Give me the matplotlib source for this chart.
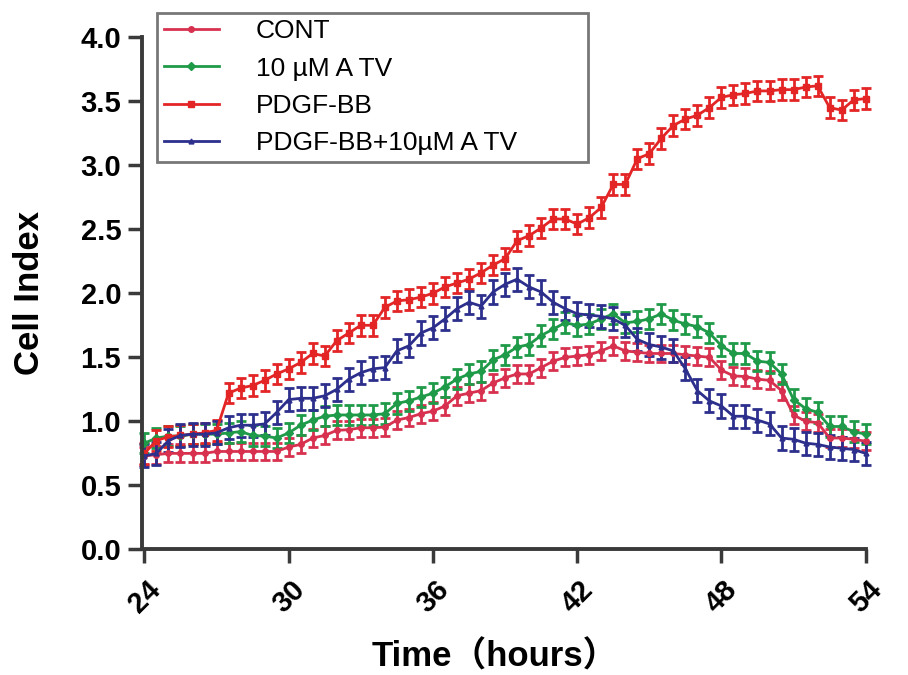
import numpy as np
import matplotlib
matplotlib.use("Agg")
import matplotlib.pyplot as plt
from matplotlib.lines import Line2D

# sampling every half hour from 24 h to 54 h
hours = np.arange(24, 54.5, 0.5)

cont = [0.73, 0.74, 0.75, 0.75, 0.75, 0.75, 0.765, 0.765, 0.765, 0.765,
        0.765, 0.765, 0.80, 0.82, 0.87, 0.89, 0.93, 0.935, 0.95, 0.95,
        0.955, 1.01, 1.03, 1.06, 1.08, 1.12, 1.20, 1.22, 1.24, 1.30,
        1.34, 1.37, 1.37, 1.42, 1.47, 1.50, 1.51, 1.52, 1.55, 1.59,
        1.55, 1.54, 1.53, 1.53, 1.53, 1.52, 1.51, 1.50, 1.40, 1.355,
        1.35, 1.33, 1.32, 1.24, 1.05, 1.00, 0.99, 0.87, 0.87, 0.86,
        0.845]

atv = [0.83, 0.87, 0.885, 0.885, 0.90, 0.90, 0.90, 0.91, 0.92, 0.89,
       0.885, 0.87, 0.91, 0.97, 1.01, 1.04, 1.05, 1.05, 1.05, 1.05,
       1.06, 1.14, 1.16, 1.19, 1.22, 1.27, 1.33, 1.37, 1.39, 1.48,
       1.52, 1.58, 1.60, 1.67, 1.72, 1.77, 1.75, 1.76, 1.80, 1.84,
       1.77, 1.78, 1.80, 1.84, 1.79, 1.76, 1.74, 1.69, 1.59, 1.53,
       1.53, 1.47, 1.46, 1.37, 1.17, 1.10, 1.07, 0.96, 0.96, 0.92,
       0.90]

pdgf = [0.75, 0.85, 0.88, 0.89, 0.90, 0.91, 0.93, 1.22, 1.26, 1.28,
        1.32, 1.37, 1.41, 1.46, 1.53, 1.51, 1.63, 1.69, 1.75, 1.75,
        1.89, 1.94, 1.95, 1.97, 2.00, 2.05, 2.08, 2.11, 2.16, 2.22,
        2.27, 2.41, 2.45, 2.51, 2.58, 2.58, 2.54, 2.59, 2.67, 2.85,
        2.85, 3.05, 3.09, 3.21, 3.31, 3.36, 3.39, 3.45, 3.53, 3.55,
        3.56, 3.58, 3.58, 3.59, 3.59, 3.61, 3.62, 3.45, 3.43, 3.51,
        3.52]

pdgf_atv = [0.73, 0.75, 0.85, 0.89, 0.90, 0.90, 0.91, 0.95, 0.97, 0.97,
            0.98, 1.07, 1.17, 1.18, 1.18, 1.20, 1.25, 1.33, 1.38, 1.41,
            1.42, 1.55, 1.59, 1.69, 1.73, 1.80, 1.88, 1.93, 1.90, 2.01,
            2.07, 2.11, 2.05, 2.01, 1.93, 1.88, 1.84, 1.83, 1.82, 1.80,
            1.75, 1.64, 1.60, 1.58, 1.55, 1.41, 1.24, 1.16, 1.12, 1.04,
            1.04, 1.01, 0.98, 0.87, 0.86, 0.83, 0.82, 0.80, 0.79, 0.78,
            0.75]

# error bar half widths (roughly constant per group)
err_cont = 0.07
err_atv = 0.08
err_pdgf = 0.08
err_pdgf_atv = 0.09

labels = ["CONT", "10 µM A TV", "PDGF-BB", "PDGF-BB+10µM A TV"]
x_ticks = [24, 30, 36, 42, 48, 54]
y_ticks = [0.0, 0.5, 1.0, 1.5, 2.0, 2.5, 3.0, 3.5, 4.0]

fam = ["Liberation Sans", "Noto Sans CJK SC", "DejaVu Sans"]
plt.rcParams["font.family"] = fam

fig = plt.figure(figsize=(9.08, 6.75), dpi=100)
ax = fig.add_axes([0.1564, 0.186, 0.797, 0.759])

series = [
    (cont, err_cont, "#d8314f", "o", 4),
    (atv, err_atv, "#1f9a48", "D", 4),
    (pdgf, err_pdgf, "#e32526", "s", 4),
    (pdgf_atv, err_pdgf_atv, "#2d2f8c", "^", 3.5),
]

handles = []
for (vals, err, col, mk, ms), lab in zip(series, labels):
    ax.errorbar(hours, vals, yerr=err, color=col, marker=mk, markersize=ms,
                lw=2, elinewidth=2, capsize=3.5, capthick=2, clip_on=False)
    # legend shows only line + marker, no error bar
    handles.append(Line2D([], [], color=col, marker=mk, markersize=ms, lw=2))

for s in ["top", "right"]:
    ax.spines[s].set_visible(False)
for s in ["left", "bottom"]:
    ax.spines[s].set_linewidth(2.8)
    ax.spines[s].set_color("#3a3a3a")

ax.set_xlim(23.9, 54)
ax.set_ylim(0, 4.0)
ax.set_xticks(x_ticks)
ax.set_yticks(y_ticks)
ax.set_yticklabels(["%.1f" % v for v in y_ticks], fontsize=21, fontweight="bold")
ax.set_xticklabels([str(v) for v in x_ticks], fontsize=21, fontweight="bold",
                   rotation=45, ha="center", va="top")
ax.tick_params(direction="out", length=10, width=2.5, color="#3a3a3a", pad=5)
ax.tick_params(axis="x", pad=9)

ax.set_ylabel("Cell Index", fontsize=25, fontweight="bold")
ax.yaxis.set_label_coords(-0.132, 0.5)
ax.set_xlabel("Time（hours）", fontsize=25, fontweight="bold")
ax.xaxis.set_label_coords(0.488, -0.178)

# legend sits partly above the axes, as in the original figure
leg = fig.legend(handles=handles, labels=labels, loc="upper left",
                 bbox_to_anchor=(0.173, 0.981 - 0.213, 0.475, 0.213),
                 bbox_transform=fig.transFigure, mode="expand",
                 fontsize=19, frameon=True, fancybox=False, borderaxespad=0,
                 handlelength=2.1, handletextpad=1.4, labelspacing=0.5,
                 borderpad=0.25)
leg.get_frame().set_edgecolor("#555555")
leg.get_frame().set_linewidth(2)

fig.savefig("out.png", dpi=100)
